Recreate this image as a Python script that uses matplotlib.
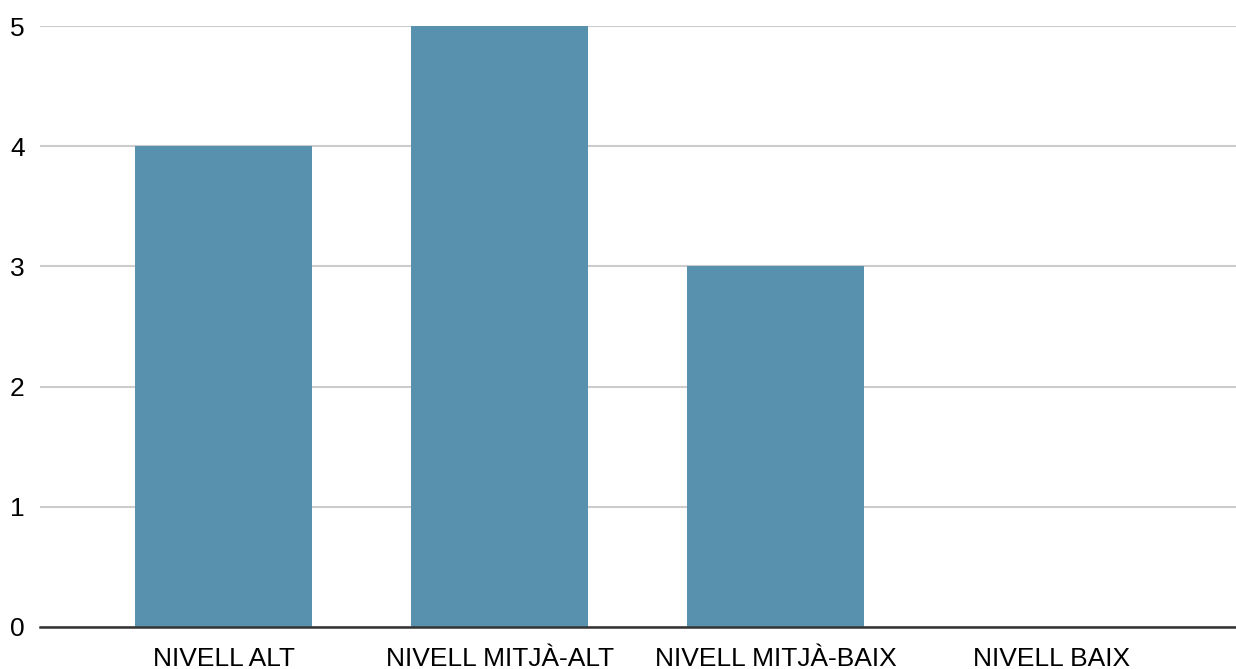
import matplotlib
matplotlib.use("Agg")
import matplotlib.pyplot as plt

categories = ["NIVELL ALT", "NIVELL MITJÀ-ALT", "NIVELL MITJÀ-BAIX", "NIVELL BAIX"]
values = [4, 5, 3, 0]
yticks = [0, 1, 2, 3, 4, 5]

plt.rcParams['font.family'] = ['Liberation Sans', 'DejaVu Sans']

fig = plt.figure(figsize=(12.36, 6.69), dpi=100)
ax = fig.add_axes([40/1236, 42/669, 1196/1236, (627-26)/669])

x = list(range(len(categories)))
bars = ax.bar(x, values, width=0.64, color="#5891ad", zorder=3)

ax.set_xlim(-0.665, 3.668)
ax.set_ylim(0, 5)
ax.set_yticks(yticks)
ax.set_xticks(x)
ax.set_xticklabels(categories)
ax.tick_params(axis='both', length=0, labelsize=19, colors="#000000")
ax.tick_params(axis='y', pad=11)
ax.tick_params(axis='x', pad=14.5)
ax.grid(axis='y', color="#cccccc", linewidth=1.5, zorder=0)
for s in ['top', 'right', 'left']:
    ax.spines[s].set_visible(False)
ax.spines['bottom'].set_color("#333333")
ax.spines['bottom'].set_linewidth(1.8)
ax.spines['bottom'].set_zorder(4)

fig.savefig("out.png", dpi=100, facecolor="white")
